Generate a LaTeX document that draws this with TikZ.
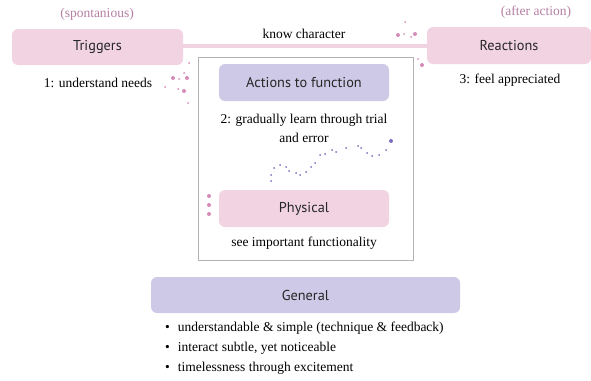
\documentclass[tikz,border=0pt]{standalone}
\usepackage{fontspec}
\setmainfont{Liberation Serif}
\newfontfamily\labelfont{PT Sans}
\definecolor{pinkfill}{HTML}{F1D3E2}
\definecolor{lilacfill}{HTML}{CEC9E6}
\definecolor{pinktext}{HTML}{B47FA3}
\definecolor{pinkdot}{HTML}{D58CB9}
\definecolor{lilacdot}{HTML}{7E6FC2}
\definecolor{framegray}{HTML}{B3B3B3}
\begin{document}
\begin{tikzpicture}[x=1pt,y=-1pt,
  box/.style={rounded corners=6pt, inner sep=0pt, font=\labelfont\fontsize{14.3}{16}\selectfont, text=black!85},
  pinkbox/.style={box, fill=pinkfill},
  lilacbox/.style={box, fill=lilacfill},
  note/.style={font=\fontsize{13.5}{19}\selectfont, inner sep=0pt, align=center},
  tag/.style={note, text=pinktext},
  bullet/.style={font=\fontsize{13.5}{17}\selectfont, inner sep=0pt, anchor=west},
  link/.style={draw=pinkfill, line width=4pt}]
\useasboundingbox (0,0) rectangle (591,380);

% frame around the middle column
\node[draw=framegray, line width=0.8pt, minimum width=215pt, minimum height=203pt, inner sep=0pt] (frame) at (305.5,158.5) {};

% top row
\node[pinkbox, minimum width=171pt, minimum height=36pt] (trig) at (97.5,47) {Triggers};
\node[pinkbox, minimum width=164pt, minimum height=37pt] (react) at (509,45.5) {Reactions};
\draw[link] (trig.east |- 0,46) -- (react.west |- 0,46);

\node[tag] (spont) at (97,14) {(spontanious)};
\node[tag] (after) at (536,12) {(after action)};
\node[note] (know) at (304,34) {know character};
\node[note] (needs) at (98,83) {1: understand needs};
\node[note] (feel) at (510,80) {3: feel appreciated};

% middle column
\node[lilacbox, minimum width=170pt, minimum height=37pt] (act) at (304,82.5) {Actions to function};
\node[note] (learn) at (304,128.5) {2: gradually learn through trial\\and error};
\node[pinkbox, minimum width=170pt, minimum height=37pt] (phys) at (304,208.5) {Physical};
\node[note] (see) at (304,243) {see important functionality};

% general
\node[lilacbox, minimum width=309pt, minimum height=36pt] (gen) at (305.5,295) {General};
\node[bullet] (b1) at (165,328) {\textbullet\hspace{8pt}understandable \& simple (technique \& feedback)};
\node[bullet] (b2) at (165,348) {\textbullet\hspace{8pt}interact subtle, yet noticeable};
\node[bullet] (b3) at (165,368) {\textbullet\hspace{8pt}timelessness through excitement};

% scattered dots
\begin{scope}[pinkdot]
  \foreach \x/\y/\r in {189/63/1.0, 184/73/1.0, 173/78/2.0, 179/79/1.0, 187/78/2.0,
                        165/87/1.0, 178/89/1.0, 184/91/2.0, 188/103/1.0,
                        405/22/1.0, 398/35/2.0, 404/34/1.0, 411/37/1.0, 415/34/2.0,
                        418/59/1.0, 422/65/2.0,
                        209/196/2.0, 209/205/2.0, 209/214/2.0}
    \fill (\x,\y) circle (\r);
\end{scope}
\begin{scope}[lilacdot]
  \foreach \x/\y in {271/181, 271/175, 274/168, 280/165, 286/167, 289/171, 296/173,
                     300/175, 306/172, 311/167, 315/163, 320/155, 325/154, 332/150,
                     336/152, 346/148, 358/146, 361/148, 367/153, 372/156, 379/155, 386/150}
    \fill (\x,\y) circle (1.0);
  \fill (391,141) circle (2.0);
\end{scope}
\end{tikzpicture}
\end{document}
